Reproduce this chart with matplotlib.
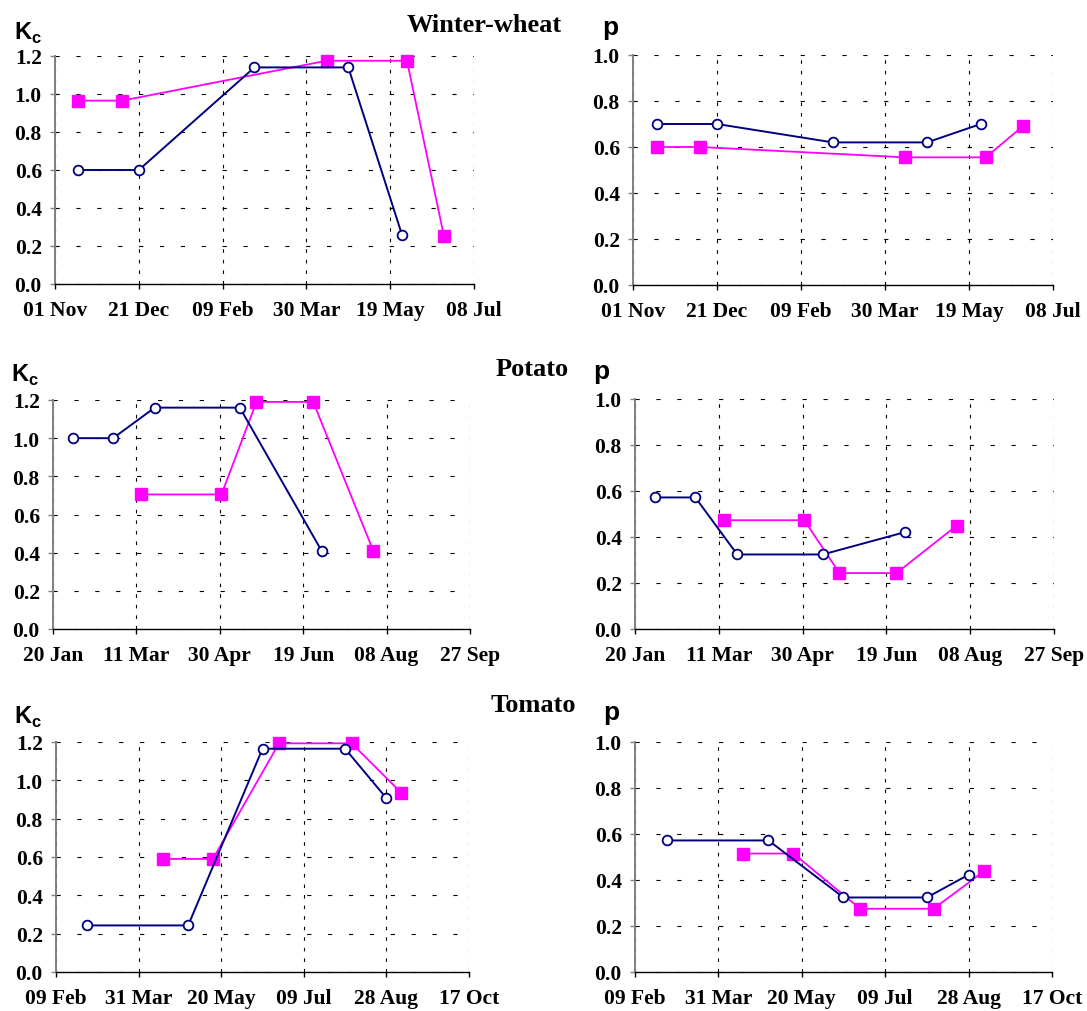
import matplotlib
matplotlib.use("Agg")
import matplotlib.pyplot as plt
import matplotlib.dates as mdates
import pandas as pd

# --- data: dates of the stage points, Kc and p values per crop ---
wheat_start = "2003-11-01"
wheat_dates_a = ["2003-11-15", "2003-12-21", "2004-02-28", "2004-04-24", "2004-05-26"]
wheat_dates_b = ["2003-11-15", "2003-12-11", "2004-04-11", "2004-05-29", "2004-06-20"]
wheat_kc_a = [0.60, 0.60, 1.14, 1.14, 0.26]
wheat_kc_b = [0.965, 0.965, 1.175, 1.175, 0.255]
wheat_p_a = [0.70, 0.70, 0.62, 0.62, 0.70]
wheat_p_b = [0.60, 0.60, 0.555, 0.555, 0.69]

potato_start = "2003-01-20"
potato_dates_a = ["2003-02-01", "2003-02-25", "2003-03-22", "2003-05-12", "2003-06-30"]
potato_dates_b = ["2003-03-14", "2003-05-01", "2003-05-22", "2003-06-25", "2003-07-31"]
potato_kc_a = [1.0, 1.0, 1.16, 1.16, 0.41]
potato_kc_b = [0.705, 0.705, 1.19, 1.19, 0.41]
potato_p_a = [0.572, 0.572, 0.324, 0.324, 0.421]
potato_p_b = [0.473, 0.473, 0.243, 0.243, 0.45]

tomato_start = "2003-02-09"
tomato_dates_a = ["2003-02-28", "2003-04-30", "2003-06-14", "2003-08-03", "2003-08-28"]
tomato_dates_b = ["2003-04-15", "2003-05-15", "2003-06-24", "2003-08-07", "2003-09-06"]
tomato_kc_a = [0.243, 0.243, 1.165, 1.165, 0.907]
tomato_kc_b = [0.59, 0.59, 1.193, 1.193, 0.935]
tomato_p_a = [0.572, 0.572, 0.324, 0.324, 0.423]
tomato_p_b = [0.515, 0.515, 0.275, 0.275, 0.437]

crops = ["Winter-wheat", "Potato", "Tomato"]

NAVY = "#000080"
MAGENTA = "#FF00FF"
SERIF = "Liberation Serif"
SANS = "Liberation Sans"

plt.rcParams["mathtext.fontset"] = "custom"
plt.rcParams["mathtext.bf"] = "Liberation Sans:bold"
plt.rcParams["mathtext.rm"] = "Liberation Sans:bold"

W, H = 1087, 1012
fig = plt.figure(figsize=(W / 100, H / 100), dpi=100)


def px_axes(left, right, top, bottom):
    # pixel box (from top-left) -> figure fraction axes
    return fig.add_axes([left / W, 1 - bottom / H, (right - left) / W, (bottom - top) / H])


def style_axes(ax, start, ymax, ystep):
    t0 = pd.Timestamp(start)
    ticks = [t0 + pd.Timedelta(days=50 * k) for k in range(6)]
    ax.set_xlim(ticks[0], ticks[-1])
    ax.set_xticks(ticks)
    ax.xaxis.set_major_formatter(mdates.DateFormatter("%d %b"))
    ax.set_ylim(0, ymax)
    yt = [round(ystep * k, 2) for k in range(int(round(ymax / ystep)) + 1)]
    ax.set_yticks(yt)
    ax.set_yticklabels([f"{v:.1f}" for v in yt])
    for s in ("top", "right"):
        ax.spines[s].set_visible(False)
    ax.spines["left"].set_color("#808080")
    ax.spines["left"].set_linewidth(1.4)
    ax.spines["bottom"].set_color("#000000")
    ax.spines["bottom"].set_linewidth(1.0)
    ax.spines["left"].set_zorder(3)
    ax.spines["bottom"].set_zorder(3)
    ax.tick_params(axis="x", direction="out", length=3.5, width=1.0, pad=8,
                   labelsize=15.5, color="black")
    ax.tick_params(axis="y", direction="out", length=3.5, width=1.0, pad=6,
                   labelsize=15.5, color="#808080")
    for lab in ax.get_xticklabels() + ax.get_yticklabels():
        lab.set_fontfamily(SERIF)
        lab.set_fontweight("bold")
    ax.grid(axis="y", color="black", linewidth=0.8, linestyle=(0, (3.8, 15.0)))
    ax.grid(axis="x", color="black", linewidth=0.8, linestyle=(0, (3.2, 6.3)))
    ax.set_axisbelow(True)


def draw(ax, dates_a, ya, dates_b, yb):
    ax.plot(pd.to_datetime(dates_b), yb, color=MAGENTA, lw=1.3, marker="s",
            markersize=8, markerfacecolor=MAGENTA, markeredgecolor=MAGENTA,
            clip_on=False, zorder=4)
    ax.plot(pd.to_datetime(dates_a), ya, color=NAVY, lw=1.4, marker="o",
            markersize=7, markerfacecolor="white", markeredgecolor=NAVY,
            markeredgewidth=1.3, clip_on=False, zorder=5)


# pixel boxes: (left, right, top, bottom)
kc_boxes = [(55, 474, 57, 285), (53, 470, 401, 630), (56, 469, 743, 973)]
p_boxes = [(633, 1053, 56, 286), (635, 1054, 400, 630), (635, 1052, 743, 973)]
starts = [wheat_start, potato_start, tomato_start]
series = [
    (wheat_dates_a, wheat_kc_a, wheat_p_a, wheat_dates_b, wheat_kc_b, wheat_p_b),
    (potato_dates_a, potato_kc_a, potato_p_a, potato_dates_b, potato_kc_b, potato_p_b),
    (tomato_dates_a, tomato_kc_a, tomato_p_a, tomato_dates_b, tomato_kc_b, tomato_p_b),
]
title_pos = [(484, 25), (532, 369), (533, 706)]
kc_label_pos = [(14, 33), (11, 375), (14, 717)]
p_label_pos = [(602, 28), (593, 372), (603, 713)]

for i, crop in enumerate(crops):
    da, kca, pa, db, kcb, pb = series[i]

    ax = px_axes(*kc_boxes[i])
    style_axes(ax, starts[i], 1.2, 0.2)
    draw(ax, da, kca, db, kcb)

    ax2 = px_axes(*p_boxes[i])
    style_axes(ax2, starts[i], 1.0, 0.2)
    draw(ax2, da, pa, db, pb)

    tx, ty = title_pos[i]
    fig.text(tx / W, 1 - ty / H, crop, ha="center", va="center",
             fontfamily=SERIF, fontweight="bold", fontsize=19)
    kx, ky = kc_label_pos[i]
    fig.text(kx / W, 1 - ky / H, r"$\mathbf{K}_{\mathbf{c}}$", ha="left", va="center",
             fontsize=17)
    px_, py_ = p_label_pos[i]
    fig.text(px_ / W, 1 - py_ / H, "p", ha="left", va="center",
             fontfamily=SANS, fontweight="bold", fontsize=19)

fig.savefig("out.png", dpi=100, facecolor="white")
